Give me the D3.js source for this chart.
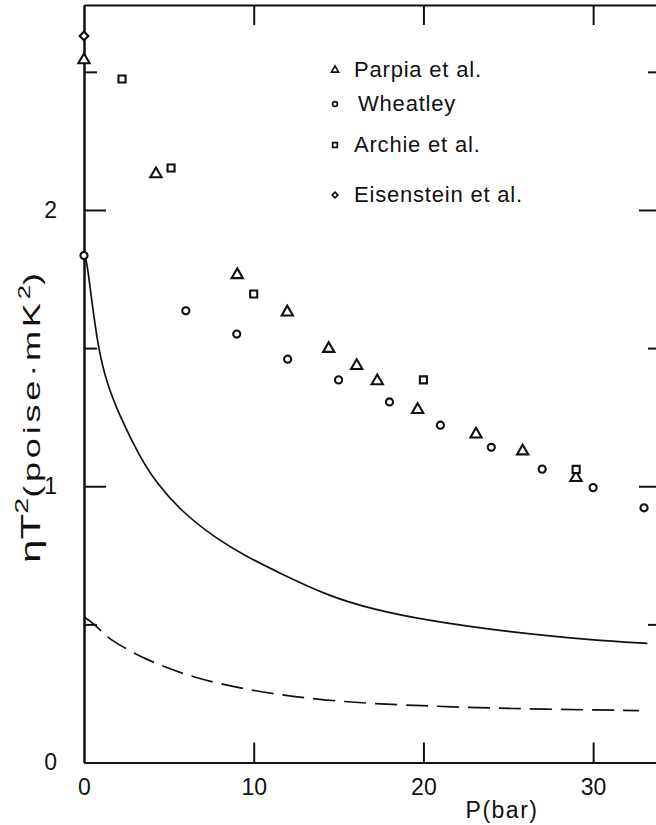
<!DOCTYPE html>
<html>
<head>
<meta charset="utf-8">
<script src="https://cdn.jsdelivr.net/npm/d3@7"></script>
<style>
  body { margin: 0; background: #fff; }
  text { font-family: "Liberation Sans", Arial, sans-serif; fill: #111; }
</style>
</head>
<body>
<script>
// Data: pressure (bar) and eta*T^2 (poise mK^2)
var parpiaP   = [0, 4.24, 9.03, 11.98, 14.42, 16.07, 17.28, 19.66, 23.1, 25.85, 28.99];
var parpiaEta = [2.543, 2.130, 1.765, 1.630, 1.498, 1.436, 1.381, 1.277, 1.188, 1.127, 1.031];

var wheatleyP   = [0, 6, 9, 12, 15, 18, 21, 24, 27, 30, 33];
var wheatleyEta = [1.835, 1.635, 1.551, 1.460, 1.385, 1.305, 1.221, 1.141, 1.062, 0.995, 0.922];

var archieP   = [2.24, 5.13, 10.0, 20.0, 29.0];
var archieEta = [2.474, 2.152, 1.696, 1.385, 1.061];

var eisensteinP   = [0];
var eisensteinEta = [2.630];

// theory curves
var solidP   = [0, 0.16, 0.45, 0.84, 1.34, 2.12, 3.3, 4.28, 5.66, 7.62, 9.59, 11.55, 14.5, 17, 20, 25, 30, 33.2];
var solidEta = [1.84, 1.819, 1.674, 1.499, 1.373, 1.252, 1.105, 1.011, 0.914, 0.817, 0.745, 0.685, 0.60, 0.555, 0.516, 0.472, 0.443, 0.431];

var dashedP   = [0, 0.55, 1.14, 1.53, 3.6, 6.4, 9.9, 14.8, 20, 24.7, 32.7];
var dashedEta = [0.527, 0.504, 0.468, 0.445, 0.372, 0.307, 0.258, 0.219, 0.205, 0.195, 0.188];

var xTicks = [10, 20, 30];
var xLabels = [0, 10, 20, 30];
var yMajor = [1, 2];
var yMinor = [0.5, 1.5, 2.5];
var yLabels = [0, 1, 2];

var legendNames = ["Parpia et al.", "Wheatley", "Archie et al.", "Eisenstein et al."];

// layout
var margin = { top: 5, left: 84 };
var width = 577;     // right border sits just outside the picture
var height = 757.5;

var svg = d3.select("body").append("svg")
	.attr("width", 656)
	.attr("height", 825);

var g = svg.append("g")
	.attr("transform", "translate(" + margin.left + "," + margin.top + ")");

var x = d3.scaleLinear().domain([0, 34]).range([0, width]);
var y = d3.scaleLinear().domain([0, 2.742]).range([height, 0]);

function styleAxis(sel) {
	sel.selectAll("path, line").attr("stroke", "#111").attr("stroke-width", 2);
	sel.selectAll("text").attr("font-size", 23).attr("fill", "#111");
	sel.attr("font-family", null).attr("font-size", null);
}

// bottom axis with labels
g.append("g")
	.attr("transform", "translate(0," + height + ")")
	.call(d3.axisBottom(x).tickValues(xLabels).tickSizeInner(-20).tickSizeOuter(0).tickPadding(16))
	.call(styleAxis)
	.call(function(s) { s.selectAll(".tick line").filter(function(d) { return d === 0; }).remove(); });

// top axis
g.append("g")
	.call(d3.axisTop(x).tickValues(xTicks).tickSizeInner(-20).tickSizeOuter(0).tickFormat(""))
	.call(styleAxis);

// left axis: majors with labels, minors short
g.append("g")
	.call(d3.axisLeft(y).tickValues(yLabels).tickSizeInner(-22).tickSizeOuter(0)
		.tickPadding(27).tickFormat(d3.format("d")))
	.call(styleAxis);
g.append("g")
	.call(d3.axisLeft(y).tickValues(yMinor).tickSizeInner(-13).tickSizeOuter(0).tickFormat(""))
	.call(styleAxis);

// right axis
g.append("g")
	.attr("transform", "translate(" + width + ",0)")
	.call(d3.axisRight(y).tickValues(yMajor).tickSizeInner(-22).tickSizeOuter(0).tickFormat(""))
	.call(styleAxis);
g.append("g")
	.attr("transform", "translate(" + width + ",0)")
	.call(d3.axisRight(y).tickValues(yMinor).tickSizeInner(-13).tickSizeOuter(0).tickFormat(""))
	.call(styleAxis);

// curves (smoothed through the read points)
var line = d3.line()
	.x(function(d) { return x(d[0]); })
	.y(function(d) { return y(d[1]); })
	.curve(d3.curveBasis);

g.append("path")
	.datum(d3.zip(solidP, solidEta))
	.attr("d", line)
	.attr("fill", "none")
	.attr("stroke", "#111")
	.attr("stroke-width", 1.7);

g.append("path")
	.datum(d3.zip(dashedP, dashedEta))
	.attr("d", line)
	.attr("fill", "none")
	.attr("stroke", "#111")
	.attr("stroke-width", 1.7)
	.attr("stroke-dasharray", "22,9");

// markers
var series = [
	{ P: parpiaP, eta: parpiaEta, type: d3.symbolTriangle, size: 55, rot: 0 },
	{ P: wheatleyP, eta: wheatleyEta, type: d3.symbolCircle, size: 40, rot: 0 },
	{ P: archieP, eta: archieEta, type: d3.symbolSquare, size: 50, rot: 0 },
	{ P: eisensteinP, eta: eisensteinEta, type: d3.symbolSquare, size: 38, rot: 45 }
];

series.forEach(function(s) {
	g.selectAll(null)
		.data(d3.zip(s.P, s.eta))
		.enter().append("path")
		.attr("d", d3.symbol().type(s.type).size(s.size))
		.attr("transform", function(d) {
			return "translate(" + x(d[0]) + "," + y(d[1]) + ") rotate(" + s.rot + ")";
		})
		.attr("fill", "#fff")
		.attr("stroke", "#111")
		.attr("stroke-width", 2.1);
});

// legend
var legendSizes = [22, 18, 22, 16];
var legendY = [70, 104, 145, 195];
var legend = svg.append("g");
series.forEach(function(s, i) {
	legend.append("path")
		.attr("d", d3.symbol().type(s.type).size(legendSizes[i]))
		.attr("transform", "translate(335," + legendY[i] + ") rotate(" + s.rot + ")")
		.attr("fill", "#fff")
		.attr("stroke", "#111")
		.attr("stroke-width", 1.7);
	legend.append("text")
		.attr("x", i === 1 ? 358 : 354)
		.attr("y", legendY[i] + 7)
		.attr("font-size", 22)
		.attr("letter-spacing", 0.8)
		.text(legendNames[i]);
});

// axis titles
svg.append("text")
	.attr("x", 502)
	.attr("y", 818)
	.attr("text-anchor", "middle")
	.attr("font-size", 23)
	.attr("letter-spacing", 1.5)
	.text("P(bar)");

var yl = svg.append("text")
	.attr("transform", "translate(40,418) rotate(-90)")
	.attr("text-anchor", "middle")
	.attr("textLength", 290)
	.attr("lengthAdjust", "spacingAndGlyphs");
yl.append("tspan").attr("font-size", 28).text("\u03b7T");
yl.append("tspan").attr("font-size", 19).attr("dy", -12).text("2");
yl.append("tspan").attr("font-size", 24).attr("dy", 12).attr("letter-spacing", 2.5).text("(poise\u00b7mK");
yl.append("tspan").attr("font-size", 17).attr("dy", -10).text("2");
yl.append("tspan").attr("font-size", 24).attr("dy", 10).text(")");
</script>
</body>
</html>
